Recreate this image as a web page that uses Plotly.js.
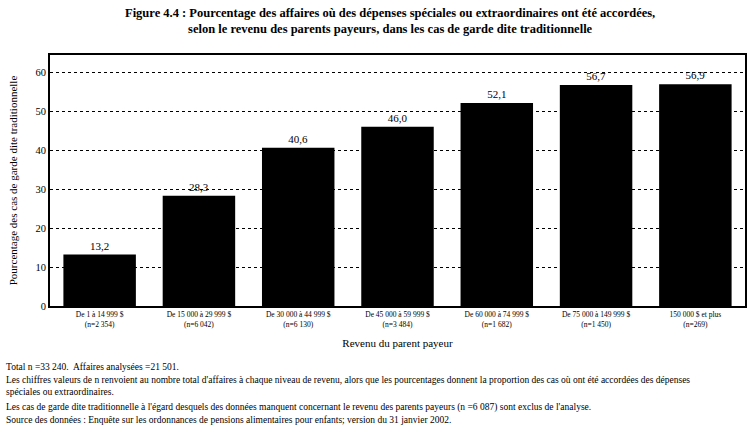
<!DOCTYPE html>
<html>
<head>
<meta charset="utf-8">
<script src="https://cdn.plot.ly/plotly-3.0.1.min.js"></script>
<style>
  body { margin: 0; background: #fff; }
  #grafico { width: 750px; height: 436px; }
</style>
</head>
<body>
<div id="grafico"></div>
<script>
// DONNEES
var tranches = [
  "De 1 à 14 999 $<br>(n=2 354)",
  "De 15 000 à 29 999 $<br>(n=6 042)",
  "De 30 000 à 44 999 $<br>(n=6 130)",
  "De 45 000 à 59 999 $<br>(n=3 484)",
  "De 60 000 à 74 999 $<br>(n=1 682)",
  "De 75 000 à 149 999 $<br>(n=1 450)",
  "150 000 $ et plus<br>(n=269)"
];
var pourcentages = [13.2, 28.3, 40.6, 46.0, 52.1, 56.7, 56.9];
var ticks_y = [0, 10, 20, 30, 40, 50, 60];

var titre = "<b>Figure 4.4 : Pourcentage des affaires où des dépenses spéciales ou extraordinaires ont été accordées,<br>selon le revenu des parents payeurs, dans les cas de garde dite traditionnelle</b>";

var notes = [
  "Total n =33 240.  Affaires analysées =21 501.",
  "Les chiffres valeurs de n renvoient au nombre total d'affaires à chaque niveau de revenu, alors que les pourcentages donnent la proportion des cas où ont été accordées des dépenses",
  "spéciales ou extraordinaires.",
  "Les cas de garde dite traditionnelle à l'égard desquels des données manquent concernant le revenu des parents payeurs (n =6 087) sont exclus de l'analyse.",
  "Source des données : Enquête sur les ordonnances de pensions alimentaires pour enfants; version du 31 janvier 2002."
];

var serif = "Liberation Serif";

var etiquettes = pourcentages.map(function (v) { return v.toFixed(1).replace(".", ","); });

var trace1 = {
  x: tranches,
  y: pourcentages,
  type: "bar",
  marker: { color: "#000000" },
  text: etiquettes,
  textposition: "outside",
  textfont: { family: serif, size: 11, color: "#000" },
  cliponaxis: false,
  hoverinfo: "none"
};

// zone du graphique : x 50..745, y 55..306
function py(pix) { return (306 - pix) / 251; }
function px(pix) { return (pix - 50) / 695; }

var anotaciones = [{
  text: titre,
  xref: "paper", yref: "paper",
  x: px(390), y: py(4),
  xanchor: "center", yanchor: "top",
  showarrow: false,
  font: { family: serif, size: 12.5, color: "#000" }
}];
var yNotes = [367, 380, 392, 407, 420];
for (let i = 0; i < notes.length; i++) {
  anotaciones.push({
    text: notes[i],
    xref: "paper", yref: "paper",
    x: px(4), y: py(yNotes[i]),
    xanchor: "left", yanchor: "middle",
    showarrow: false,
    font: { family: serif, size: 9.5, color: "#000" }
  });
}

var layout = {
  width: 750,
  height: 436,
  margin: { l: 50, r: 5, t: 55, b: 130 },
  paper_bgcolor: "#fff",
  plot_bgcolor: "#fff",
  showlegend: false,
  bargap: 0.27,
  font: { family: serif, color: "#000" },
  xaxis: {
    tickfont: { family: serif, size: 7.5, color: "#000" },
    showline: true, linecolor: "#000", linewidth: 2, mirror: true,
    ticks: "", showgrid: false,
    title: { text: "Revenu du parent payeur", font: { family: serif, size: 11, color: "#000" }, standoff: 12 }
  },
  yaxis: {
    range: [0, 64.4],
    tickvals: ticks_y,
    tickfont: { family: serif, size: 10.5, color: "#000" },
    showline: true, linecolor: "#000", linewidth: 2, mirror: true,
    ticks: "", ticklen: 0,
    showgrid: true, gridcolor: "#000", gridwidth: 1, griddash: "dot",
    zeroline: false,
    title: { text: "Pourcentage des cas de garde dite traditionnelle", font: { family: serif, size: 11, color: "#000" }, standoff: 16 }
  },
  annotations: anotaciones
};

Plotly.newPlot("grafico", [trace1], layout, { staticPlot: true });
</script>
</body>
</html>
